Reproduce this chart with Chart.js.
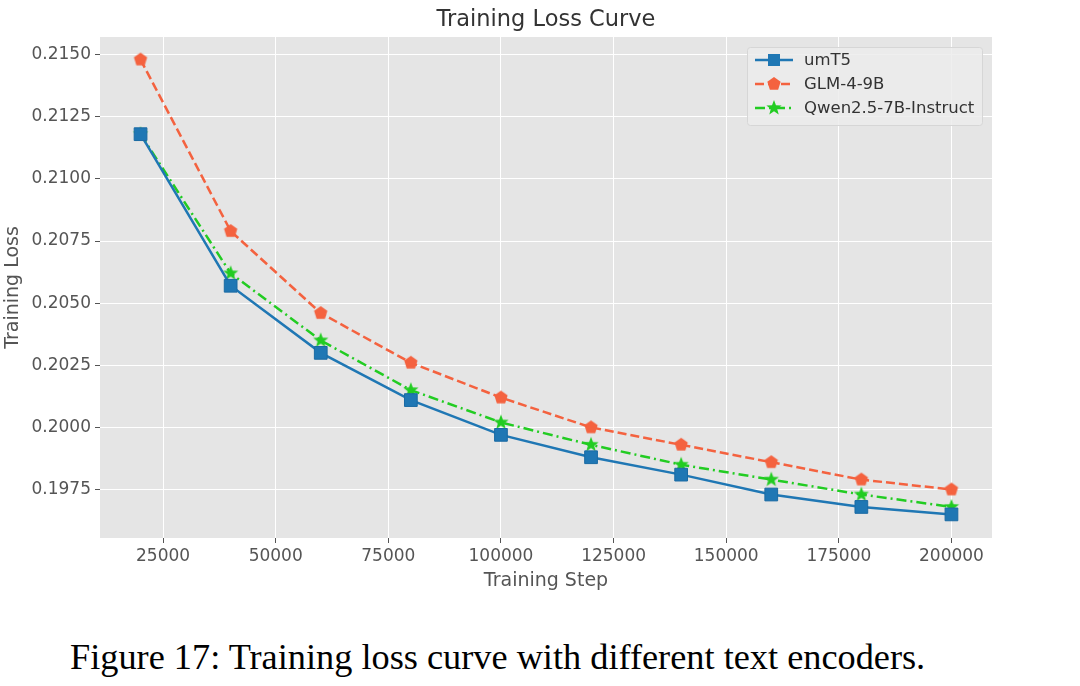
<!DOCTYPE html>
<html>
<head>
<meta charset="utf-8">
<script src="https://cdn.jsdelivr.net/npm/chart.js@4.4.1/dist/chart.umd.min.js"></script>
<style>
  html, body { margin: 0; padding: 0; background: #fff; }
  #wrap { position: relative; width: 1080px; height: 686px; overflow: hidden; }
  #box { position: absolute; left: 0; top: 0; width: 1080px; height: 600px; }
  #caption {
    position: absolute; left: 70px; top: 639px;
    font-family: "Liberation Serif", "DejaVu Serif", serif;
    font-size: 36.3px; line-height: 36px; color: #000; white-space: nowrap;
  }
</style>
</head>
<body>
<div id="wrap">
  <div id="box"><canvas id="chartLoss"></canvas></div>
  <div id="caption">Figure 17: Training loss curve with different text encoders.</div>
</div>
<script>
'use strict';

// ── dados ───────────────────────────────────────────────────────────────────
const STEPS      = [20000, 40000, 60000, 80000, 100000, 120000, 140000, 160000, 180000, 200000];
const LOSS_UMT5  = [0.2118, 0.2057, 0.2030, 0.2011, 0.1997, 0.1988, 0.1981, 0.1973, 0.1968, 0.1965];
const LOSS_GLM   = [0.2148, 0.2079, 0.2046, 0.2026, 0.2012, 0.2000, 0.1993, 0.1986, 0.1979, 0.1975];
const LOSS_QWEN  = [0.2118, 0.2062, 0.2035, 0.2015, 0.2002, 0.1993, 0.1985, 0.1979, 0.1973, 0.1968];
const X_TICKS    = [25000, 50000, 75000, 100000, 125000, 150000, 175000, 200000];
const Y_TICKS    = [0.1975, 0.2000, 0.2025, 0.2050, 0.2075, 0.2100, 0.2125, 0.2150];
const SERIES_NAMES = ['umT5', 'GLM-4-9B', 'Qwen2.5-7B-Instruct'];
const TITLE = 'Training Loss Curve';

// ── paleta ──────────────────────────────────────────────────────────────────
const COLOR_BLUE  = '#1f77b4';
const COLOR_RED   = '#f4623f';
const COLOR_GREEN = '#22cc22';
const COLOR_BG    = '#e5e5e5';
const COLOR_TEXT  = '#555555';
const FONT        = '"DejaVu Sans", Verdana, sans-serif';

// ── marcadores ──────────────────────────────────────────────────────────────
function polyMarker(color, points, inner, R) {
    const size = 20;
    const c = document.createElement('canvas');
    c.width = size; c.height = size;
    const g = c.getContext('2d');
    const cx = size / 2, cy = size / 2;
    const n = inner ? points * 2 : points;
    g.beginPath();
    for (let i = 0; i < n; i++) {
        const r = inner && (i % 2) ? R * inner : R;
        const a = -Math.PI / 2 + i * 2 * Math.PI / n;
        const px = cx + r * Math.cos(a), py = cy + r * Math.sin(a);
        i ? g.lineTo(px, py) : g.moveTo(px, py);
    }
    g.closePath();
    g.fillStyle = color;
    g.fill();
    return c;
}

const MARK_PENTA = polyMarker(COLOR_RED, 5, 0, 7);
const MARK_STAR  = polyMarker(COLOR_GREEN, 5, 0.42, 8);

function pts(ys) {
    return STEPS.map((x, i) => ({ x, y: ys[i] }));
}

// ── plugins ─────────────────────────────────────────────────────────────────
const plotBg = {
    id: 'plotBg',
    beforeDraw(chart) {
        const { ctx, chartArea: a } = chart;
        ctx.save();
        ctx.fillStyle = COLOR_BG;
        ctx.fillRect(a.left, a.top, a.right - a.left, a.bottom - a.top);
        // título centrado sobre a área do gráfico
        ctx.fillStyle = '#333';
        ctx.font = '22.5px ' + FONT;
        ctx.textAlign = 'center';
        ctx.textBaseline = 'middle';
        ctx.fillText(TITLE, (a.left + a.right) / 2, 20);
        ctx.restore();
    },
};

const legendBox = {
    id: 'legendBox',
    afterDraw(chart) {
        const { ctx, chartArea: a } = chart;
        const x0 = a.right - 245, y0 = a.top + 10, w = 235, h = 78;
        ctx.save();
        ctx.fillStyle = 'rgba(236,236,236,0.85)';
        ctx.strokeStyle = '#d6d6d6';
        ctx.lineWidth = 1;
        ctx.beginPath();
        ctx.roundRect(x0 + 0.5, y0 + 0.5, w, h, 3);
        ctx.fill();
        ctx.stroke();

        chart.data.datasets.forEach((ds, i) => {
            const y = y0 + 13 + i * 24;
            const lx = x0 + 8;
            ctx.strokeStyle = ds.borderColor;
            ctx.lineWidth = ds.borderWidth;
            ctx.setLineDash(ds.borderDash || []);
            ctx.beginPath();
            ctx.moveTo(lx, y);
            ctx.lineTo(lx + 38, y);
            ctx.stroke();
            ctx.setLineDash([]);
            const ps = ds.pointStyle;
            if (ps === 'rect') {
                ctx.fillStyle = ds.pointBackgroundColor;
                ctx.fillRect(lx + 19 - 6, y - 6, 12, 12);
            } else {
                ctx.drawImage(ps, lx + 19 - ps.width / 2, y - ps.height / 2);
            }
            ctx.fillStyle = '#333';
            ctx.font = '16.5px ' + FONT;
            ctx.textAlign = 'left';
            ctx.textBaseline = 'middle';
            ctx.fillText(ds.label, lx + 49, y + 1);
        });
        ctx.restore();
    },
};

// ── gráfico ─────────────────────────────────────────────────────────────────
let chartLoss = null;

document.addEventListener('DOMContentLoaded', () => {
    chartLoss = new Chart(document.getElementById('chartLoss'), {
        type: 'line',
        data: {
            datasets: [
                {
                    label: SERIES_NAMES[0],
                    data: pts(LOSS_UMT5),
                    borderColor: COLOR_BLUE,
                    backgroundColor: COLOR_BLUE,
                    borderWidth: 2.5,
                    pointStyle: 'rect',
                    pointRadius: 9,
                    pointBackgroundColor: COLOR_BLUE,
                    pointBorderColor: '#1a6aa3',
                    pointBorderWidth: 1,
                },
                {
                    label: SERIES_NAMES[1],
                    data: pts(LOSS_GLM),
                    borderColor: COLOR_RED,
                    backgroundColor: COLOR_RED,
                    borderWidth: 2.5,
                    borderDash: [9, 4],
                    pointStyle: MARK_PENTA,
                    pointRadius: 8,
                },
                {
                    label: SERIES_NAMES[2],
                    data: pts(LOSS_QWEN),
                    borderColor: COLOR_GREEN,
                    backgroundColor: COLOR_GREEN,
                    borderWidth: 2.5,
                    borderDash: [10, 4, 2, 4],
                    pointStyle: MARK_STAR,
                    pointRadius: 8,
                },
            ],
        },
        options: {
            responsive: true,
            maintainAspectRatio: false,
            animation: false,
            layout: { padding: { left: 0, right: 88, top: 37, bottom: 0 } },
            plugins: {
                legend: { display: false },
                tooltip: { enabled: false },
                title: { display: false },
            },
            scales: {
                x: {
                    type: 'linear',
                    min: 11000,
                    max: 209000,
                    border: { display: false },
                    grid: { color: '#ffffff', lineWidth: 1, tickColor: COLOR_TEXT, tickLength: 5 },
                    afterBuildTicks: s => { s.ticks = X_TICKS.map(v => ({ value: v })); },
                    afterFit: s => { s.height = 62; },
                    ticks: {
                        color: COLOR_TEXT,
                        padding: 3,
                        maxRotation: 0,
                        font: { family: FONT, size: 17 },
                        callback: v => String(v),
                    },
                    title: {
                        display: true,
                        text: 'Training Step',
                        color: COLOR_TEXT,
                        font: { family: FONT, size: 19 },
                        padding: { top: 0, bottom: 8 },
                    },
                },
                y: {
                    min: 0.19555,
                    max: 0.21571,
                    border: { display: false },
                    grid: { color: '#ffffff', lineWidth: 1, tickColor: COLOR_TEXT, tickLength: 5 },
                    afterBuildTicks: s => { s.ticks = Y_TICKS.map(v => ({ value: v })); },
                    afterFit: s => { s.width = 100; },
                    ticks: {
                        color: COLOR_TEXT,
                        padding: 4,
                        font: { family: FONT, size: 17 },
                        callback: v => Number(v).toFixed(4),
                    },
                    title: {
                        display: true,
                        text: 'Training Loss',
                        color: COLOR_TEXT,
                        font: { family: FONT, size: 19 },
                        padding: { top: 2, bottom: 0 },
                    },
                },
            },
        },
        plugins: [plotBg, legendBox],
    });
});
</script>
</body>
</html>
